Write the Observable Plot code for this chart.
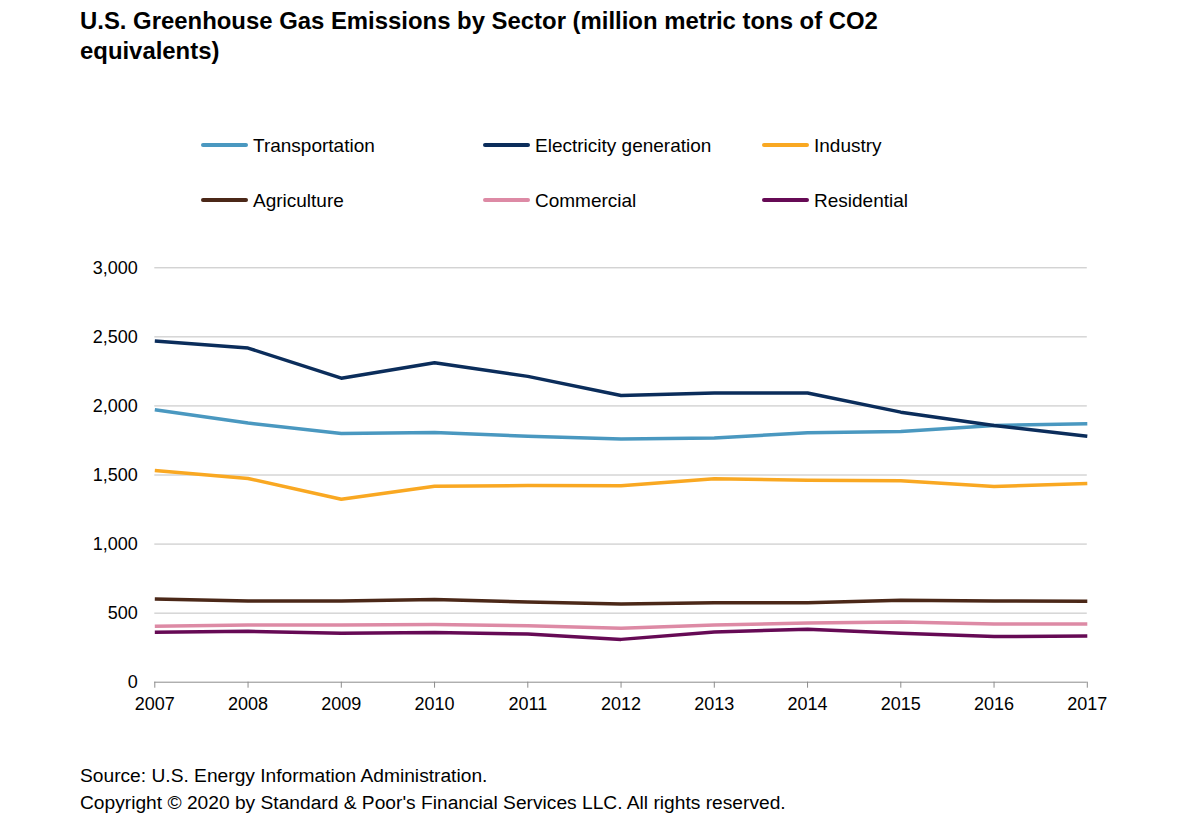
<!DOCTYPE html>
<html>
<head>
<meta charset="utf-8">
<script src="https://cdn.jsdelivr.net/npm/d3@7"></script>
<script src="https://cdn.jsdelivr.net/npm/@observablehq/plot@0.6"></script>
<style>
  html, body { margin: 0; padding: 0; background: #fff; }
  body { width: 1189px; height: 833px; position: relative; overflow: hidden; font-family: "Liberation Sans", Arial, sans-serif; color: #000; }
  #title { position: absolute; left: 80px; top: 6px; font-size: 23.9px; font-weight: bold; line-height: 30px; width: 1100px; }
  .leg { position: absolute; font-size: 19px; line-height: 19px; white-space: nowrap; }
  .sw { position: absolute; height: 4px; border-radius: 2px; width: 47px; }
  #chart { position: absolute; left: 0; top: 240px; }
  .foot { position: absolute; left: 80px; font-size: 19.2px; line-height: 19px; white-space: nowrap; }
</style>
</head>
<body>
<div id="title">U.S. Greenhouse Gas Emissions by Sector (million metric tons of CO2<br>equivalents)</div>
<div id="legend"></div>
<div id="chart"></div>
<div class="foot" style="top:766px">Source: U.S. Energy Information Administration.</div>
<div class="foot" style="top:793px">Copyright © 2020 by Standard &amp; Poor's Financial Services LLC. All rights reserved.</div>
<script>
const years = [2007, 2008, 2009, 2010, 2011, 2012, 2013, 2014, 2015, 2016, 2017];
const sectors = ["Transportation", "Electricity generation", "Industry", "Agriculture", "Commercial", "Residential"];
const colors = ["#4a98c0", "#0b2d5b", "#f9a822", "#4b2818", "#dd8aa5", "#660a55"];
const transportation = [1972, 1876, 1801, 1808, 1781, 1760, 1767, 1806, 1815, 1859, 1871];
const electricity = [2470, 2419, 2201, 2313, 2214, 2076, 2093, 2093, 1955, 1859, 1781];
const industry = [1533, 1475, 1325, 1419, 1424, 1422, 1472, 1462, 1458, 1417, 1438];
const agriculture = [603, 588, 588, 598, 581, 567, 576, 576, 593, 588, 586];
const commercial = [405, 414, 414, 417, 409, 390, 414, 429, 436, 422, 422];
const residential = [361, 368, 354, 359, 349, 310, 364, 383, 354, 330, 335];
const yTicks = [0, 500, 1000, 1500, 2000, 2500, 3000];

const seriesValues = [transportation, electricity, industry, agriculture, commercial, residential];
const data = [];
sectors.forEach((s, i) => years.forEach((y, j) => data.push({sector: s, year: y, value: seriesValues[i][j]})));

// Legend (HTML)
const legend = document.getElementById("legend");
const legCols = [201, 483, 762];
const legRows = [143, 198];
sectors.forEach((s, i) => {
  const col = i % 3, row = Math.floor(i / 3);
  const sw = document.createElement("div");
  sw.className = "sw";
  sw.style.left = legCols[col] + "px";
  sw.style.top = legRows[row] + "px";
  sw.style.background = colors[i];
  legend.appendChild(sw);
  const t = document.createElement("div");
  t.className = "leg";
  t.style.left = (legCols[col] + 52) + "px";
  t.style.top = (legRows[row] - 7.5) + "px";
  t.textContent = s;
  legend.appendChild(t);
});

const chart = Plot.plot({
  width: 1189,
  height: 500,
  marginTop: 27.3,
  marginBottom: 58.3,
  marginLeft: 154.3,
  marginRight: 102.2,
  style: {fontFamily: "'Liberation Sans', Arial, sans-serif", fontSize: "18px", color: "#000", background: "transparent"},
  x: {domain: [2007, 2017], ticks: years, tickFormat: d => String(d)},
  y: {domain: [0, 3000], ticks: yTicks, tickFormat: d3.format(",")},
  color: {domain: sectors, range: colors},
  marks: [
    Plot.gridY(yTicks.filter(d => d > 0), {stroke: "#c0c0c0", strokeOpacity: 1, strokeWidth: 1}),
    Plot.ruleY([0], {stroke: "#8c8c8c", strokeWidth: 1}),
    Plot.axisX({ticks: years, tickSize: 6, tickPadding: 9, stroke: "#8c8c8c", tickFormat: d => String(d), fontSize: 18, label: null}),
    Plot.axisY({ticks: yTicks, tickSize: 0, tickPadding: 17, tickFormat: d3.format(","), fontSize: 18, label: null}),
    Plot.line(data, {x: "year", y: "value", z: "sector", stroke: "sector", strokeWidth: 3.5, strokeLinejoin: "round", strokeLinecap: "butt"})
  ]
});
document.getElementById("chart").appendChild(chart);
</script>
</body>
</html>
